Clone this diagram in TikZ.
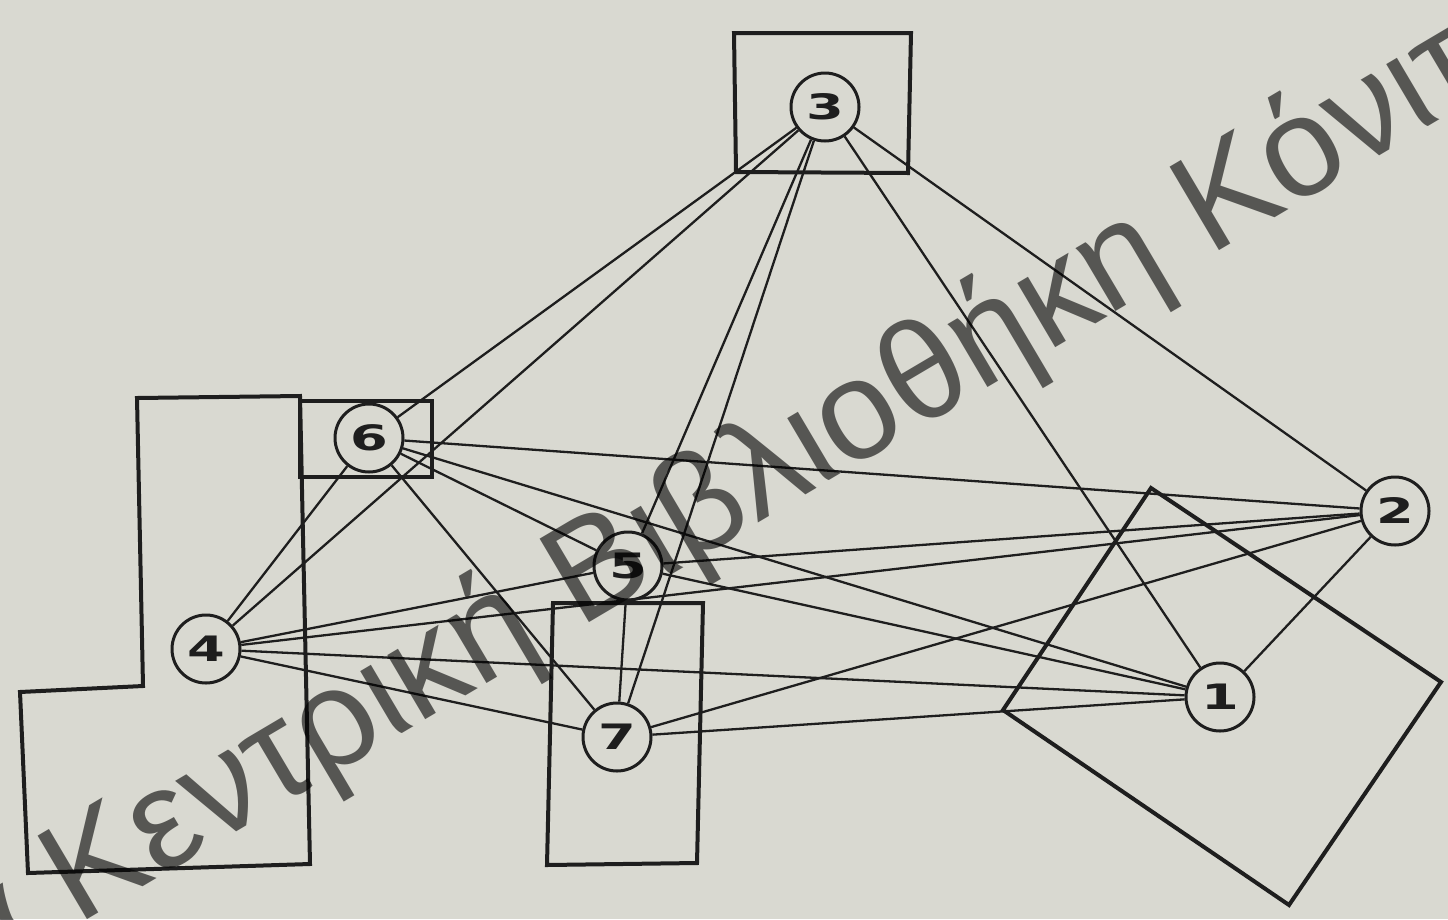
\documentclass[tikz,border=0pt]{standalone}
\usepackage{fontspec}
\setmainfont{Liberation Sans}
\newfontfamily\digitfont{DejaVu Sans}
\definecolor{paper}{RGB}{217,217,209}
\definecolor{ink}{RGB}{30,30,30}
\begin{document}
\begin{tikzpicture}[x=1pt,y=-1pt,
  num/.style={circle, draw=ink, line width=3pt, fill=paper, minimum size=68pt, inner sep=0pt,
    font=\digitfont\bfseries\fontsize{35}{35}\selectfont, text=ink},
  link/.style={draw=ink, line width=2.3pt},
  zone/.style={draw=ink, line width=4pt, line join=miter},
  mark text/.style={rotate=30.6, anchor=base west, text=black, text opacity=0.6,
    font=\fontsize{141}{141}\selectfont, inner sep=0pt}]
\useasboundingbox (0,0) rectangle (1448,919);
\clip (0,0) rectangle (1448,919);
\fill[paper] (0,0) rectangle (1448,919);

% zones
\draw[zone] (734,33) -- (911,33) -- (908,173) -- (736,172) -- cycle;
\draw[zone] (300,401) -- (432,401) -- (432,477) -- (300,477) -- cycle;
\draw[zone] (137,398) -- (300,396) -- (310,864) -- (28,873) -- (20,692) -- (143,686) -- cycle;
\draw[zone] (553,603) -- (703,603) -- (697,863) -- (547,865) -- cycle;
\draw[zone] (1151,488) -- (1441,682) -- (1289,905) -- (1003,710) -- cycle;

% nodes
\node[num] (n3) at (825,107) {\scalebox{1.55}[1]{3}};
\node[num] (n6) at (369,438) {\scalebox{1.55}[1]{6}};
\node[num] (n4) at (206,649) {\scalebox{1.55}[1]{4}};
\node[num] (n5) at (628,566) {\scalebox{1.55}[1]{5}};
\node[num] (n7) at (617,737) {\scalebox{1.55}[1]{7}};
\node[num] (n1) at (1220,697) {\scalebox{1.55}[1]{1}};
\node[num] (n2) at (1395,511) {\scalebox{1.55}[1]{2}};

% connectors (complete graph)
\foreach \a/\b in {n3/n6,n3/n4,n3/n5,n3/n7,n3/n1,n3/n2,
                   n6/n4,n6/n2,n6/n1,n6/n5,n6/n7,
                   n4/n5,n4/n2,n4/n1,n4/n7,
                   n5/n2,n5/n1,n5/n7,
                   n7/n2,n7/n1,
                   n1/n2}
  \draw[link] (\a) -- (\b);

% watermark
\node[mark text] (wm) at (-26,987) {α Κεντρική Βιβλιοθήκη Κόνιτσ};
\end{tikzpicture}
\end{document}
